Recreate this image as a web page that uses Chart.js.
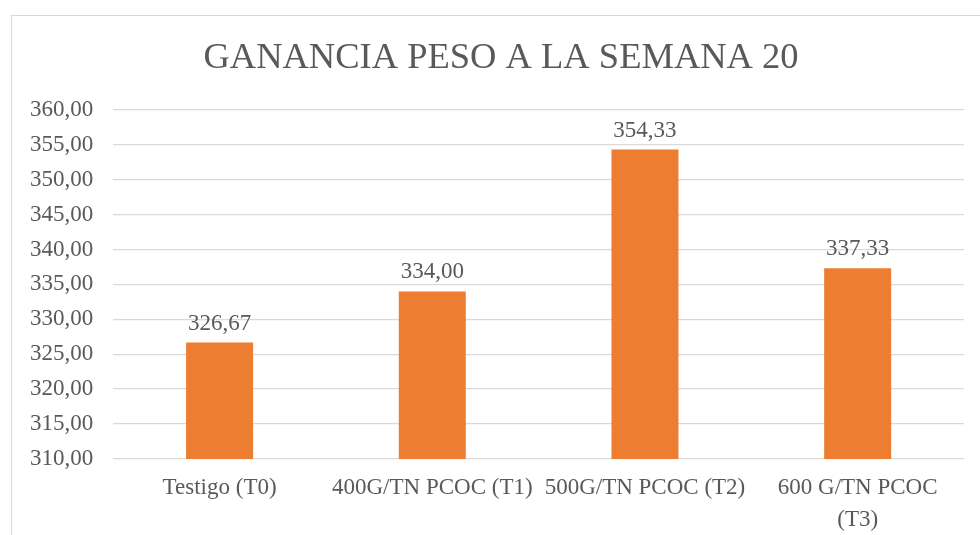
<!DOCTYPE html>
<html>
<head>
<meta charset="utf-8">
<script src="https://cdn.jsdelivr.net/npm/chart.js@4"></script>
<style>
  html, body { margin: 0; padding: 0; background: #fff; overflow: hidden; }
  #frame {
    position: absolute; left: 11px; top: 15px;
    width: 990px; height: 540px;
    border-left: 1px solid #d9d9d9; border-top: 1px solid #d9d9d9;
  }
  #wrap { position: absolute; left: 0; top: 0; width: 968px; height: 525px; }
</style>
</head>
<body>
<div id="frame"><div id="wrap"><canvas id="barChart"></canvas></div></div>
<script>
// --- Data ---
const categories = ['Testigo (T0)', '400G/TN PCOC (T1)', '500G/TN PCOC (T2)', ['600 G/TN PCOC', '(T3)']];
const values = [326.67, 334.00, 354.33, 337.33];
const yMin = 310;
const yMax = 360;
const yStep = 5;
const chartTitle = 'GANANCIA PESO A LA SEMANA 20';

const serif = "'Liberation Serif', 'Times New Roman', serif";
const textGray = '#595959';
const fmt = v => Number(v).toFixed(2).replace('.', ',');

// title is centred on the whole chart frame (which runs past the window), not on the canvas
const frameTitle = {
    id: 'frameTitle',
    afterDraw(chart) {
        const ctx = chart.ctx;
        ctx.save();
        ctx.font = '36.5px ' + serif;
        ctx.fillStyle = textGray;
        ctx.textAlign = 'center';
        ctx.textBaseline = 'middle';
        ctx.fillText(chartTitle, 489, 42);
        ctx.restore();
    }
};

// draws the value above each bar
const valueLabels = {
    id: 'valueLabels',
    afterDatasetsDraw(chart) {
        const ctx = chart.ctx;
        const meta = chart.getDatasetMeta(0);
        ctx.save();
        ctx.font = '23px ' + serif;
        ctx.fillStyle = textGray;
        ctx.textAlign = 'center';
        ctx.textBaseline = 'middle';
        meta.data.forEach((bar, i) => {
            ctx.fillText(fmt(values[i]), bar.x, bar.y - 19);
        });
        ctx.restore();
    }
};

document.addEventListener('DOMContentLoaded', function() {
    const ctx = document.getElementById('barChart');
    new Chart(ctx.getContext('2d'), {
        type: 'bar',
        data: {
            labels: categories,
            datasets: [{
                data: values,
                backgroundColor: '#ed7d31',
                borderWidth: 0,
                barPercentage: 0.315,
                categoryPercentage: 1
            }]
        },
        options: {
            responsive: true,
            maintainAspectRatio: false,
            animation: false,
            layout: { padding: { left: -2, right: 16, top: 94, bottom: 0 } },
            scales: {
                x: {
                    grid: { display: false },
                    border: { display: false },
                    ticks: {
                        color: textGray,
                        font: { family: serif, size: 23, lineHeight: 1.35 },
                        padding: 6,
                        maxRotation: 0,
                        autoSkip: false
                    }
                },
                y: {
                    min: yMin,
                    max: yMax,
                    border: { display: false },
                    grid: { color: '#d9d9d9', lineWidth: 1.3, drawTicks: false },
                    ticks: {
                        stepSize: yStep,
                        color: textGray,
                        font: { family: serif, size: 23 },
                        padding: 20,
                        callback: v => fmt(v)
                    }
                }
            },
            plugins: {
                legend: { display: false },
                tooltip: { enabled: false },
                title: { display: false }
            }
        },
        plugins: [valueLabels, frameTitle]
    });
});
</script>
</body>
</html>
